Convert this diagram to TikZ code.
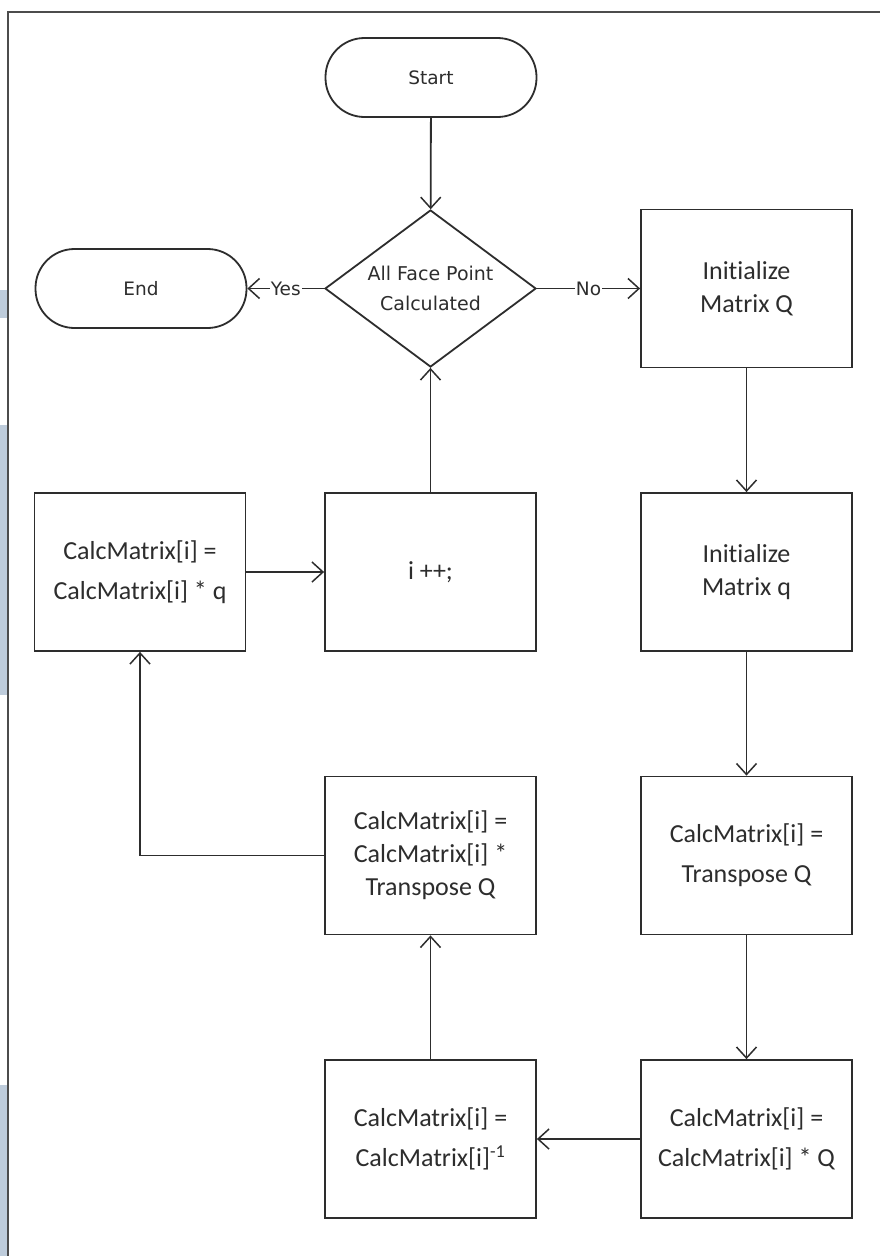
\documentclass[tikz,border=0pt]{standalone}
\usepackage{fontspec}
\setmainfont{Carlito}[Ligatures=NoCommon]
\newfontfamily\labelfont{DejaVu Sans}
\usetikzlibrary{shapes.geometric,arrows.meta}
\definecolor{stripblue}{RGB}{190,204,219}
\definecolor{ink}{RGB}{45,45,45}
\begin{document}
\begin{tikzpicture}[x=1pt,y=-1pt,
  line/.style={draw=ink, line width=1.8pt},
  arr/.style={line, -{Straight Barb[length=11pt,width=20pt,line width=1.5pt]}},
  terminal/.style={line, rectangle, rounded corners=39pt, minimum width=211pt,
    minimum height=79pt, inner sep=0pt, text=ink,
    font=\labelfont\fontsize{18.5}{22}\selectfont},
  decision/.style={line, diamond, aspect=1.344, minimum width=211pt,
    minimum height=157pt, inner sep=0pt, text=ink, align=center,
    font=\labelfont\fontsize{19}{30}\selectfont},
  procbox/.style={line, rectangle, minimum width=211pt, minimum height=158pt,
    inner sep=0pt, text=ink, align=center,
    font=\fontsize{26}{33}\selectfont},
  widebox/.style={procbox, font=\fontsize{26}{40}\selectfont},
  lbl/.style={fill=white, inner sep=1pt, text=ink,
    font=\labelfont\fontsize{18.5}{22}\selectfont}
]
% canvas
\useasboundingbox (0,0) rectangle (880,1256);
\fill[white] (0,0) rectangle (880,1256);
\fill[stripblue] (0,290) rectangle (7,318);
\fill[stripblue] (0,425) rectangle (7,695);
\fill[stripblue] (0,1085) rectangle (7,1256);
\draw[ink!85, line width=2pt] (880,12) -- (8,12) -- (8,1256);

% nodes
\node[terminal] (start) at (431,77.5) {Start};
\node[decision] (dec) at (430.5,288.5) {All Face Point\\Calculated};
\node[terminal] (end) at (141,288.5) {End};

\node[procbox] (iniQ) at (746.5,288.5) {Initialize\\Matrix Q};
\node[procbox] (iniq) at (746.5,572) {Initialize\\Matrix q};
\node[widebox] (traR) at (746.5,855.5) {CalcMatrix[i] =\\Transpose Q};
\node[widebox] (mulQ) at (746.5,1139) {CalcMatrix[i] =\\CalcMatrix[i] * Q};
\node[widebox] (inv) at (430.5,1139) {CalcMatrix[i] =\\CalcMatrix[i]\textsuperscript{-1}};
\node[procbox] (traL) at (430.5,855.5) {CalcMatrix[i] =\\CalcMatrix[i] *\\Transpose Q};
\node[procbox] (incr) at (430.5,572) {i ++;};
\node[widebox] (mulq) at (140,572) {CalcMatrix[i] =\\CalcMatrix[i] * q};

% connectors
\draw[arr] (start) -- (dec);
\draw[arr] (dec.west) -- node[lbl] {Yes} (end.east);
\draw[arr] (dec.east) -- node[lbl] {No} (iniQ.west);
\draw[arr] (iniQ) -- (iniq);
\draw[arr] (iniq) -- (traR);
\draw[arr] (traR) -- (mulQ);
\draw[arr] (mulQ) -- (inv);
\draw[arr] (inv) -- (traL);
\draw[arr] (traL.west) -| (mulq.south);
\draw[arr] (mulq) -- (incr);
\draw[arr] (incr) -- (dec.south);
\end{tikzpicture}
\end{document}
